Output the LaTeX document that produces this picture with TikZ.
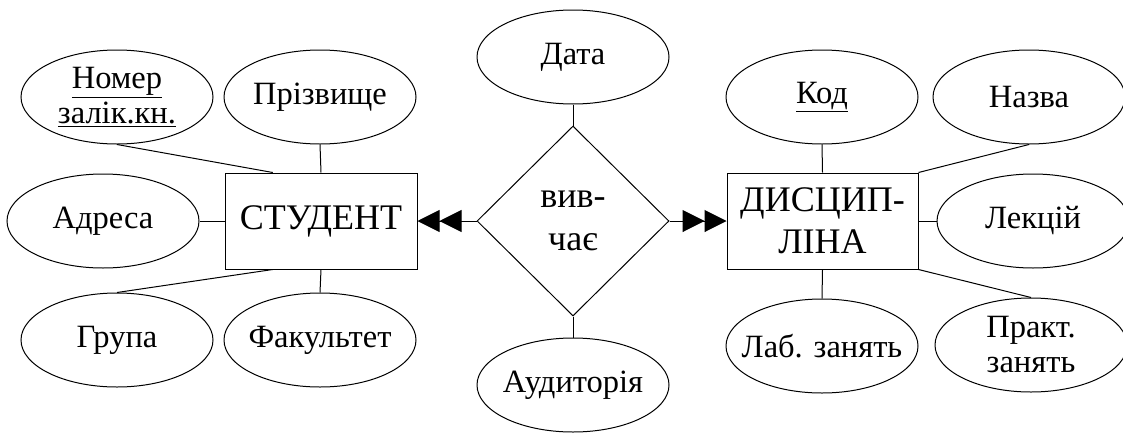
\documentclass[tikz,border=0pt]{standalone}
\usepackage{fontspec}
\setmainfont{Liberation Serif}
\usetikzlibrary{shapes.geometric,arrows.meta,calc}
\tikzset{
  attr/.style={draw, ellipse, line width=1pt, minimum width=192pt, minimum height=94pt, inner xsep=-40pt, inner ysep=-20pt, align=center, font=\fontsize{32.5}{35}\selectfont},
  ent/.style={draw, rectangle, line width=1pt, minimum width=192pt, minimum height=96pt, inner sep=0pt, align=center, font=\fontsize{36}{42.5}\selectfont},
  rel/.style={draw, diamond, line width=1pt, minimum width=192pt, minimum height=190pt, inner sep=0pt, align=center, font=\fontsize{36}{42.5}\selectfont},
  link/.style={line width=1pt},
  many/.style={line width=1pt, -{Triangle[length=22pt,width=22pt]Triangle[length=22pt,width=22pt]}}
}
\begin{document}
\begin{tikzpicture}[x=1pt,y=-1pt]
\useasboundingbox (0,0) rectangle (1123,434);
\clip (0,0) rectangle (1123,434);
% entities and relationship
\node[ent] (stu) at (321,221) {СТУДЕНТ};
\node[ent, minimum width=191pt] (disc) at (822.5,221) {ДИСЦИП-\\ЛІНА};
\node[rel] (rel) at (573,221) {вив-\\чає};
% attributes of STUDENT
\node[attr] (nomer) at (117,97) {\underline{Номер}\\\underline{залік.кн.}};
\node[attr] (prizv) at (320,97) {Прізвище};
\node[attr] (adresa) at (103,221) {Адреса};
\node[attr] (grupa) at (117,340) {Група};
\node[attr] (fakult) at (320,340) {Факультет};
% attributes of relationship
\node[attr] (data) at (573,57) {Дата};
\node[attr] (aud) at (573,385) {Аудиторія};
% attributes of DISCIPLINE
\node[attr] (kod) at (822,97) {\underline{Код}};
\node[attr] (nazva) at (1029,97) {Назва};
\node[attr] (lekc) at (1033,221) {Лекцій};
\node[attr] (lab) at (822,346) {Лаб. занять};
\node[attr] (prakt) at (1031,345) {Практ.\\занять};
% anchor points on STUDENT box
\coordinate (stuNq) at ($(stu.north west)!0.25!(stu.north east)$);
\coordinate (stuSq) at ($(stu.south west)!0.25!(stu.south east)$);
% connectors
\draw[link] (nomer.south) -- (stuNq);
\draw[link] (prizv.south) -- (stu.north);
\draw[link] (adresa.east) -- (stu.west);
\draw[link] (grupa.north) -- (stuSq);
\draw[link] (fakult.north) -- (stu.south);
\draw[link] (data.south) -- (rel.north);
\draw[link] (aud.north) -- (rel.south);
\draw[link] (kod.south) -- (disc.north);
\draw[link] (nazva.south) -- (disc.north east);
\draw[link] (lekc.west) -- (disc.east);
\draw[link] (lab.north) -- (disc.south);
\draw[link] (prakt.north) -- (disc.south east);
\draw[many] (rel.west) -- (stu.east);
\draw[many] (rel.east) -- (disc.west);
\end{tikzpicture}
\end{document}
